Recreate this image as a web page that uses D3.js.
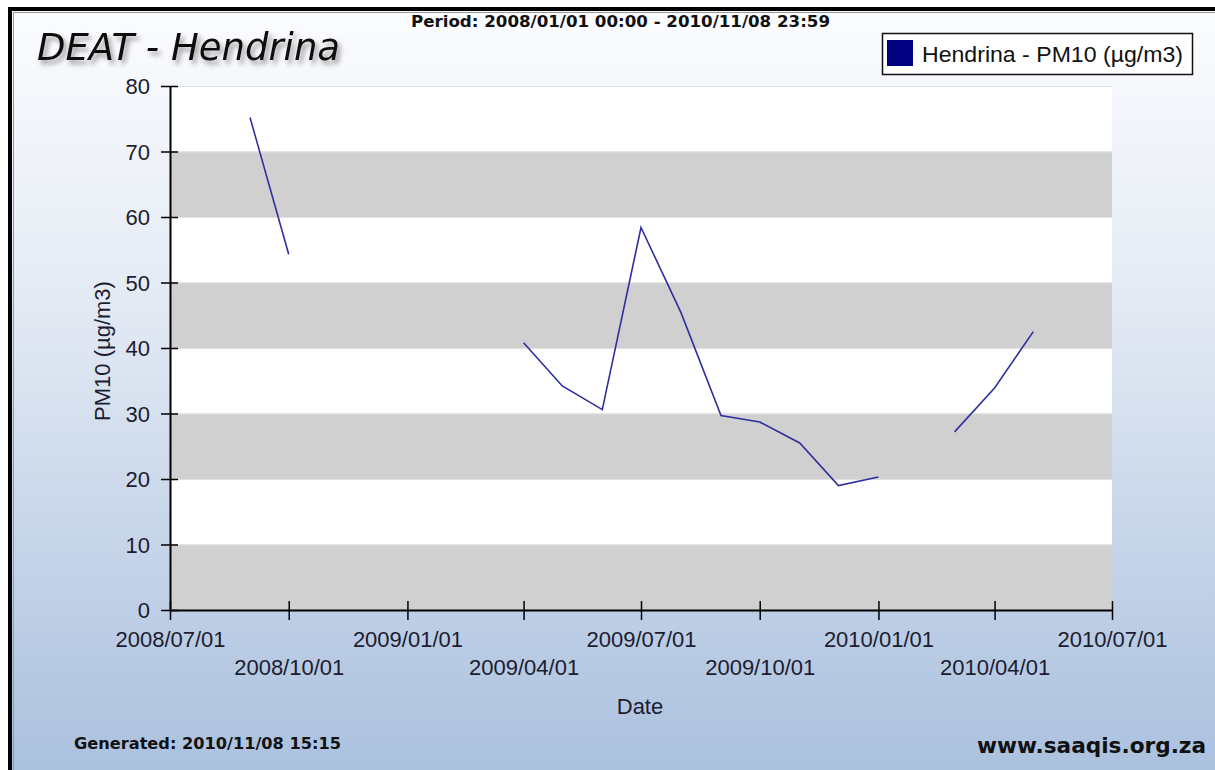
<!DOCTYPE html>
<html><head><meta charset="utf-8">
<script src="https://cdn.jsdelivr.net/npm/d3@7"></script>
<style>html,body{margin:0;padding:0;overflow:hidden;background:#fff}</style>
</head><body>
<script>
const dates = ["2008-09-01","2008-10-01","2008-11-01","2008-12-01","2009-01-01","2009-02-01","2009-03-01","2009-04-01","2009-05-01","2009-06-01","2009-07-01","2009-08-01","2009-09-01","2009-10-01","2009-11-01","2009-12-01","2010-01-01","2010-02-01","2010-03-01","2010-04-01","2010-05-01"];
const values = [75.2,54.3,null,null,null,null,null,40.8,34.2,30.6,58.4,45.4,29.7,28.7,25.5,19.0,20.3,null,27.2,33.9,42.5];
const xTickDates = ["2008-07-01","2008-10-01","2009-01-01","2009-04-01","2009-07-01","2009-10-01","2010-01-01","2010-04-01","2010-07-01"];
const yTicks = [0,10,20,30,40,50,60,70,80];
const bandStarts = [0,20,40,60];

const W=1215,H=770;
const parse=d3.timeParse("%Y-%m-%d");
const fmt=d3.timeFormat("%Y/%m/%d");
const svg=d3.select("body").append("svg").attr("width",W).attr("height",H);
const defs=svg.append("defs");
const g=defs.append("linearGradient").attr("id","bg").attr("x1",0).attr("y1",0).attr("x2",0).attr("y2",1);
g.append("stop").attr("offset","0%").attr("stop-color","#fbfcfe");
g.append("stop").attr("offset","35%").attr("stop-color","#e6ecf5");
g.append("stop").attr("offset","100%").attr("stop-color","#abc1de");
const f=defs.append("filter").attr("id","sh").attr("x","-10%").attr("y","-30%").attr("width","130%").attr("height","180%");
f.append("feDropShadow").attr("dx",3).attr("dy",4).attr("stdDeviation",2.5).attr("flood-color","#000").attr("flood-opacity",0.4);

svg.append("rect").attr("x",0).attr("y",0).attr("width",W).attr("height",H).attr("fill","#fff");
svg.append("rect").attr("x",12).attr("y",11).attr("width",W-12).attr("height",H-11).attr("fill","url(#bg)");
// frame
svg.append("rect").attr("x",8).attr("y",7).attr("width",W-8).attr("height",4).attr("fill","#000");
svg.append("rect").attr("x",8).attr("y",7).attr("width",4).attr("height",H-7).attr("fill","#000");
svg.append("line").attr("x1",13).attr("x2",W).attr("y1",12.5).attr("y2",12.5).attr("stroke","#999");
svg.append("line").attr("x1",13.5).attr("x2",13.5).attr("y1",12).attr("y2",H).attr("stroke","#999");

const L=170,R=1112,T=86,B=610;
const x=d3.scaleTime().domain([parse("2008-07-01"),parse("2010-07-01")]).range([L,R]);
const y=d3.scaleLinear().domain([0,80]).range([B,T]);

svg.append("rect").attr("x",L).attr("y",T).attr("width",R-L).attr("height",B-T).attr("fill","#fff");
svg.selectAll("rect.band").data(bandStarts).enter().append("rect").attr("class","band")
  .attr("x",L).attr("width",R-L).attr("y",d=>y(d+10)).attr("height",d=>y(d)-y(d+10)).attr("fill","#d0d0d0");
svg.selectAll("line.grid").data(yTicks.filter(d=>d>0)).enter().append("line").attr("class","grid")
  .attr("x1",L).attr("x2",R).attr("y1",d=>y(d)+0.5).attr("y2",d=>y(d)+0.5).attr("stroke","#e0e0e0");

// line
const data=dates.map((d,i)=>({d:parse(d),v:values[i]}));
const line=d3.line().defined(d=>d.v!=null).x(d=>x(d.d)).y(d=>y(d.v));
svg.append("path").datum(data).attr("d",line).attr("fill","none").attr("stroke","#2e2e9e").attr("stroke-width",1.6);

// axes
const font="'Liberation Sans',Arial,sans-serif";
const txt="#1c1c30";
const yAxis=svg.append("g").attr("transform",`translate(${L},0)`).call(d3.axisLeft(y).tickValues(yTicks).tickSize(9).tickSizeOuter(0));
yAxis.select(".domain").attr("stroke","#000").attr("stroke-width",2);
yAxis.selectAll(".tick line").attr("x2",8).attr("x1",-9).attr("stroke","#000").attr("stroke-width",1.5);
yAxis.selectAll("text").attr("font-family",font).attr("font-size",22).attr("fill",txt).attr("x",-20).attr("dy","0.36em");

const xAxis=svg.append("g").attr("transform",`translate(0,${B})`).call(d3.axisBottom(x).tickValues(xTickDates.map(parse)).tickFormat(fmt).tickSizeOuter(0));
xAxis.select(".domain").attr("stroke","#000").attr("stroke-width",2);
xAxis.selectAll(".tick line").attr("y1",-9).attr("y2",10).attr("stroke","#000").attr("stroke-width",1.5);
xAxis.selectAll("text").attr("font-family",font).attr("font-size",22).attr("fill",txt)
  .attr("y",(d,i)=>i%2===0?21:49).attr("dy","0.71em");

svg.append("text").attr("x",102).attr("y",351).attr("transform","rotate(-90,102,351)").attr("text-anchor","middle")
  .attr("dy","0.35em").attr("font-family",font).attr("font-size",22).attr("fill",txt).text("PM10 (µg/m3)");
svg.append("text").attr("x",640).attr("y",714).attr("text-anchor","middle").attr("font-family",font).attr("font-size",22).attr("fill",txt).text("Date");

// title
svg.append("text").attr("x",37).attr("y",60).attr("font-family","'DejaVu Sans',Verdana,sans-serif").attr("font-style","italic")
  .attr("font-size",36.5).attr("fill","#111").attr("filter","url(#sh)").attr("textLength",303).attr("lengthAdjust","spacingAndGlyphs").text("DEAT - Hendrina");
svg.append("text").attr("x",411).attr("y",26.5).attr("font-family","'DejaVu Sans',Verdana,sans-serif")
  .attr("font-weight","bold").attr("font-size",15).attr("fill","#111").attr("textLength",419).attr("lengthAdjust","spacingAndGlyphs").text("Period: 2008/01/01 00:00 - 2010/11/08 23:59");

// legend
svg.append("rect").attr("x",882.5).attr("y",33.5).attr("width",310).attr("height",41).attr("fill","#fff").attr("stroke","#111").attr("stroke-width",1.5);
svg.append("rect").attr("x",887).attr("y",40).attr("width",26).attr("height",26).attr("fill","#000080");
svg.append("text").attr("x",922).attr("y",62).attr("font-family",font).attr("font-size",22.5).attr("fill","#111").attr("textLength",261).attr("lengthAdjust","spacingAndGlyphs").text("Hendrina - PM10 (µg/m3)");

// footer
svg.append("text").attr("x",74).attr("y",749).attr("font-family","'DejaVu Sans',Verdana,sans-serif").attr("font-weight","bold")
  .attr("font-size",15).attr("fill","#111").attr("textLength",267).attr("lengthAdjust","spacingAndGlyphs").text("Generated: 2010/11/08 15:15");
svg.append("text").attr("x",977).attr("y",753).attr("font-family","'DejaVu Sans',Verdana,sans-serif").attr("font-weight","bold")
  .attr("font-size",21).attr("fill","#111").attr("textLength",229).attr("lengthAdjust","spacingAndGlyphs").text("www.saaqis.org.za");
</script>
</body></html>
